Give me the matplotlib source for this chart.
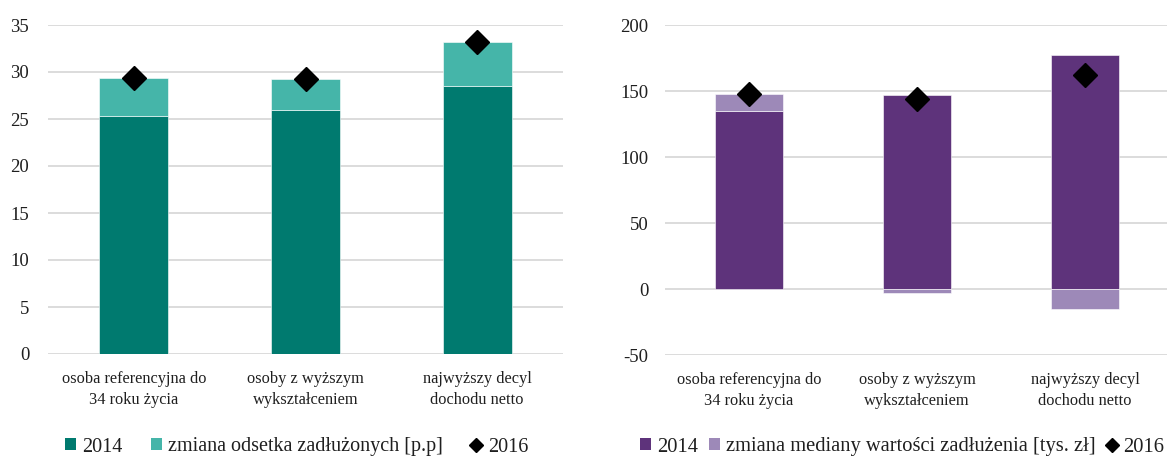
import numpy as np
import matplotlib.pyplot as plt
from matplotlib.patches import Patch
from matplotlib.lines import Line2D

plt.rcParams['font.family'] = ['Liberation Serif', 'DejaVu Serif']
plt.rcParams['font.size'] = 12
plt.rcParams['axes.unicode_minus'] = False

# data
categories = ['osoba referencyjna do\n34 roku życia',
              'osoby z wyższym\nwykształceniem',
              'najwyższy decyl\ndochodu netto']

share_2014 = [25.3, 26.0, 28.5]
share_change = [4.1, 3.3, 4.7]
share_2016 = [29.4, 29.3, 33.2]

median_2014 = [135, 147, 177]
median_change = [13, -3, -15]
median_2016 = [148, 144, 162]

left_colors = ('#007A6F', '#45B5A9')
right_colors = ('#5E337B', '#9D89B8')
grid_color = '#D9D9D9'
text_color = '#1F1F1F'

fig = plt.figure(figsize=(11.67, 4.57), dpi=100)
W, H = 1167, 457
ax1 = fig.add_axes([48 / W, 1 - 354 / H, (563 - 48) / W, (354 - 25) / H])
ax2 = fig.add_axes([665 / W, 1 - 355 / H, (1169 - 665) / W, (355 - 25) / H])


def draw(ax, base, change, final, colors, ylim, yticks, ypad):
    x = np.arange(len(categories))
    base = np.array(base, dtype=float)
    change = np.array(change, dtype=float)
    # positive changes sit on top of the base bar, negative ones hang below zero
    bottom = np.where(change >= 0, base, 0)
    ax.bar(x, base, width=0.4, color=colors[0], edgecolor='white',
           linewidth=0.4, zorder=2)
    ax.bar(x, change, bottom=bottom, width=0.4, color=colors[1],
           edgecolor='white', linewidth=0.4, zorder=2)
    ax.plot(x, final, linestyle='none', marker='D', markersize=12,
            color='black', zorder=3)

    ax.set_xlim(-0.5, len(categories) - 0.5)
    ax.set_ylim(*ylim)
    ax.set_yticks(yticks)
    ax.set_xticks(x)
    ax.set_xticklabels(categories, color=text_color, linespacing=1.4,
                       fontsize=11.8)
    ax.tick_params(axis='y', length=0, pad=ypad, labelcolor=text_color,
                   labelsize=13.5)
    ax.tick_params(axis='x', length=0, pad=12.5)
    ax.grid(axis='y', color=grid_color, linewidth=1.3, zorder=0)
    ax.set_axisbelow(True)
    for s in ax.spines.values():
        s.set_visible(False)


draw(ax1, share_2014, share_change, share_2016, left_colors,
     (0, 35), np.arange(0, 36, 5), 13.5)
draw(ax2, median_2014, median_change, median_2016, right_colors,
     (-50, 200), np.arange(-50, 201, 50), 12)


# legends under each panel
def legend(colors, label, x0, spacing, size):
    handles = [Patch(facecolor=colors[0]), Patch(facecolor=colors[1]),
               Line2D([], [], linestyle='none', marker='D', markersize=7,
                      color='black')]
    fig.legend(handles, ['2014', label, '2016'], loc='center left',
               bbox_to_anchor=(x0 / W, 1 - 447 / H), ncol=3, frameon=False,
               handlelength=0.55, handleheight=0.55, handletextpad=0.3,
               columnspacing=spacing, fontsize=size, labelcolor=text_color,
               borderaxespad=0, borderpad=0)


legend(left_colors, 'zmiana odsetka zadłużonych [p.p]', 65, 1.4, 14.5)
legend(right_colors, 'zmiana mediany wartości zadłużenia [tys. zł]', 640, 0.5, 14.8)

plt.savefig('out.png', dpi=100)
